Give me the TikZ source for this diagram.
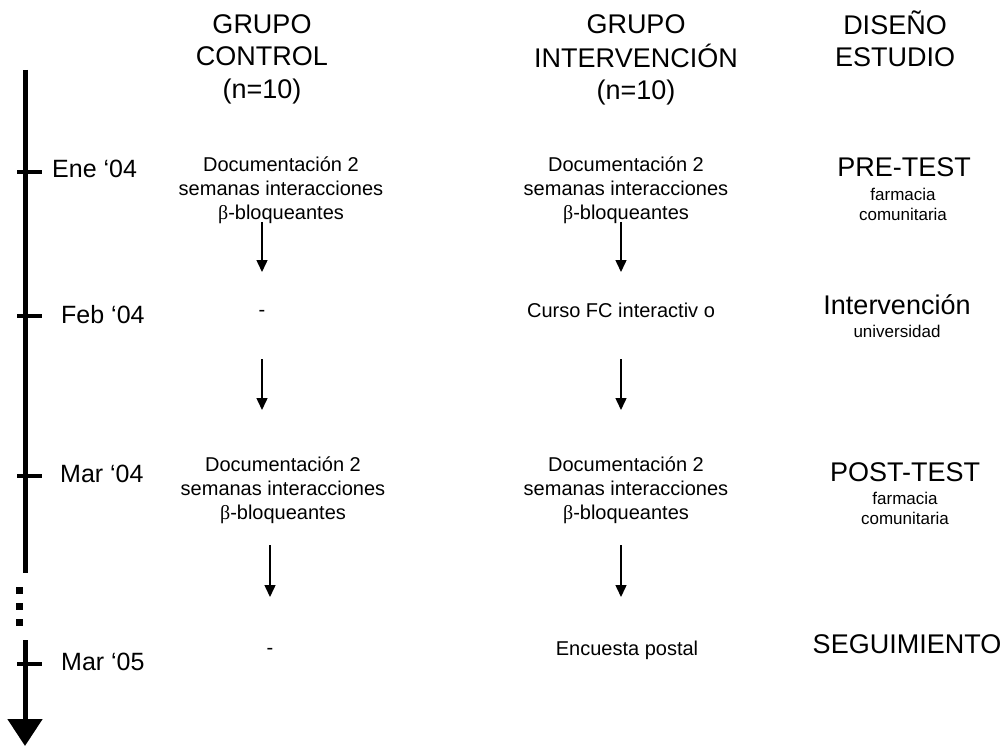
\documentclass[tikz,border=0pt]{standalone}
\usepackage{fontspec}
\setmainfont{Liberation Sans}
\newfontfamily\symbfam{Liberation Serif}
\usetikzlibrary{arrows.meta}
\newcommand{\betsym}{{\symbfam β}}
\begin{document}
\begin{tikzpicture}[x=1pt,y=-1pt,
  hdr/.style={font=\fontsize{27}{32.5}\selectfont, align=center, anchor=north, inner sep=0pt},
  datelbl/.style={font=\fontsize{25}{30}\selectfont, anchor=base west, inner sep=0pt},
  body/.style={font=\fontsize{20}{24}\selectfont, align=center, anchor=north, inner sep=0pt},
  oneline/.style={font=\fontsize{20}{24}\selectfont, anchor=base, inner sep=0pt},
  phaselbl/.style={font=\fontsize{27}{32}\selectfont, anchor=base, inner sep=0pt},
  sublbl/.style={font=\fontsize{17}{20}\selectfont, align=center, anchor=north, inner sep=0pt},
  flowarr/.style={line width=1.5pt, -{Triangle[width=11pt,length=12pt]}},
  tickmark/.style={line width=4pt},
  axis/.style={line width=5pt},
]
\useasboundingbox (0,0) rectangle (1004,746);

% headers
\node[hdr] (hctrl) at (262,10.25) {\strut GRUPO\\CONTROL\\(n=10)};
\node[hdr] (hint) at (636,10.25) {\strut GRUPO\\INTERVENCIÓN\\(n=10)};
\node[hdr] (hdes) at (895,10.25) {\strut DISEÑO\\ESTUDIO};

% timeline
\coordinate (tA) at (25,70);
\coordinate (tB) at (25,573);
\coordinate (tC) at (25,640);
\coordinate (tD) at (25,746);
\draw[axis] (tA) -- (tB);
\draw[axis, -{Triangle[width=34pt,length=27pt]}] (tC) -- (tD);
\foreach \yy in {590,606,622}{
  \fill (15.5,\yy-3.5) rectangle (22.5,\yy+3.5);
}
% ticks
\coordinate (k1a) at (17,172); \coordinate (k1b) at (42,172);
\coordinate (k2a) at (17,316); \coordinate (k2b) at (42,316);
\coordinate (k3a) at (17,476); \coordinate (k3b) at (42,476);
\coordinate (k4a) at (17,664); \coordinate (k4b) at (42,664);
\draw[tickmark] (k1a) -- (k1b);
\draw[tickmark] (k2a) -- (k2b);
\draw[tickmark] (k3a) -- (k3b);
\draw[tickmark] (k4a) -- (k4b);
\node[datelbl] (dEne) at (52,178) {Ene ‘04};
\node[datelbl] (dFeb) at (61,323) {Feb ‘04};
\node[datelbl] (dMar) at (60,482) {Mar ‘04};
\node[datelbl] (dMar5) at (61,670) {Mar ‘05};

% control column
\node[body] (c1) at (281,154.2) {\strut Documentación 2\\semanas interacciones\\\betsym-bloqueantes};
\node[oneline] (c2) at (262,316) {-};
\node[body] (c3) at (283,454.2) {\strut Documentación 2\\semanas interacciones\\\betsym-bloqueantes};
\node[oneline] (c4) at (270,654) {-};

% intervention column
\node[body] (i1) at (626,154.2) {\strut Documentación 2\\semanas interacciones\\\betsym-bloqueantes};
\node[oneline] (i2) at (621,317) {Curso FC interactiv o};
\node[body] (i3) at (626,454.2) {\strut Documentación 2\\semanas interacciones\\\betsym-bloqueantes};
\node[oneline] (i4) at (627,655) {Encuesta postal};

% design column
\node[phaselbl] (p1) at (904,177) {PRE-TEST};
\node[sublbl] (s1) at (903,186) {\strut farmacia\\comunitaria};
\node[phaselbl] (p2) at (897,314) {Intervención};
\node[sublbl] (s2) at (897,323) {\strut universidad};
\node[phaselbl] (p3) at (905,481) {POST-TEST};
\node[sublbl] (s3) at (905,490) {\strut farmacia\\comunitaria};
\node[phaselbl] (p4) at (907,653) {SEGUIMIENTO};

% flow arrows
\coordinate (ca1) at (262,222); \coordinate (cb1) at (262,272);
\coordinate (ca2) at (262,359); \coordinate (cb2) at (262,410);
\coordinate (ca3) at (270,545); \coordinate (cb3) at (270,597);
\coordinate (ia1) at (621,222); \coordinate (ib1) at (621,272);
\coordinate (ia2) at (621,359); \coordinate (ib2) at (621,410);
\coordinate (ia3) at (621,545); \coordinate (ib3) at (621,597);
\draw[flowarr] (ca1) -- (cb1);
\draw[flowarr] (ca2) -- (cb2);
\draw[flowarr] (ca3) -- (cb3);
\draw[flowarr] (ia1) -- (ib1);
\draw[flowarr] (ia2) -- (ib2);
\draw[flowarr] (ia3) -- (ib3);
\end{tikzpicture}
\end{document}
